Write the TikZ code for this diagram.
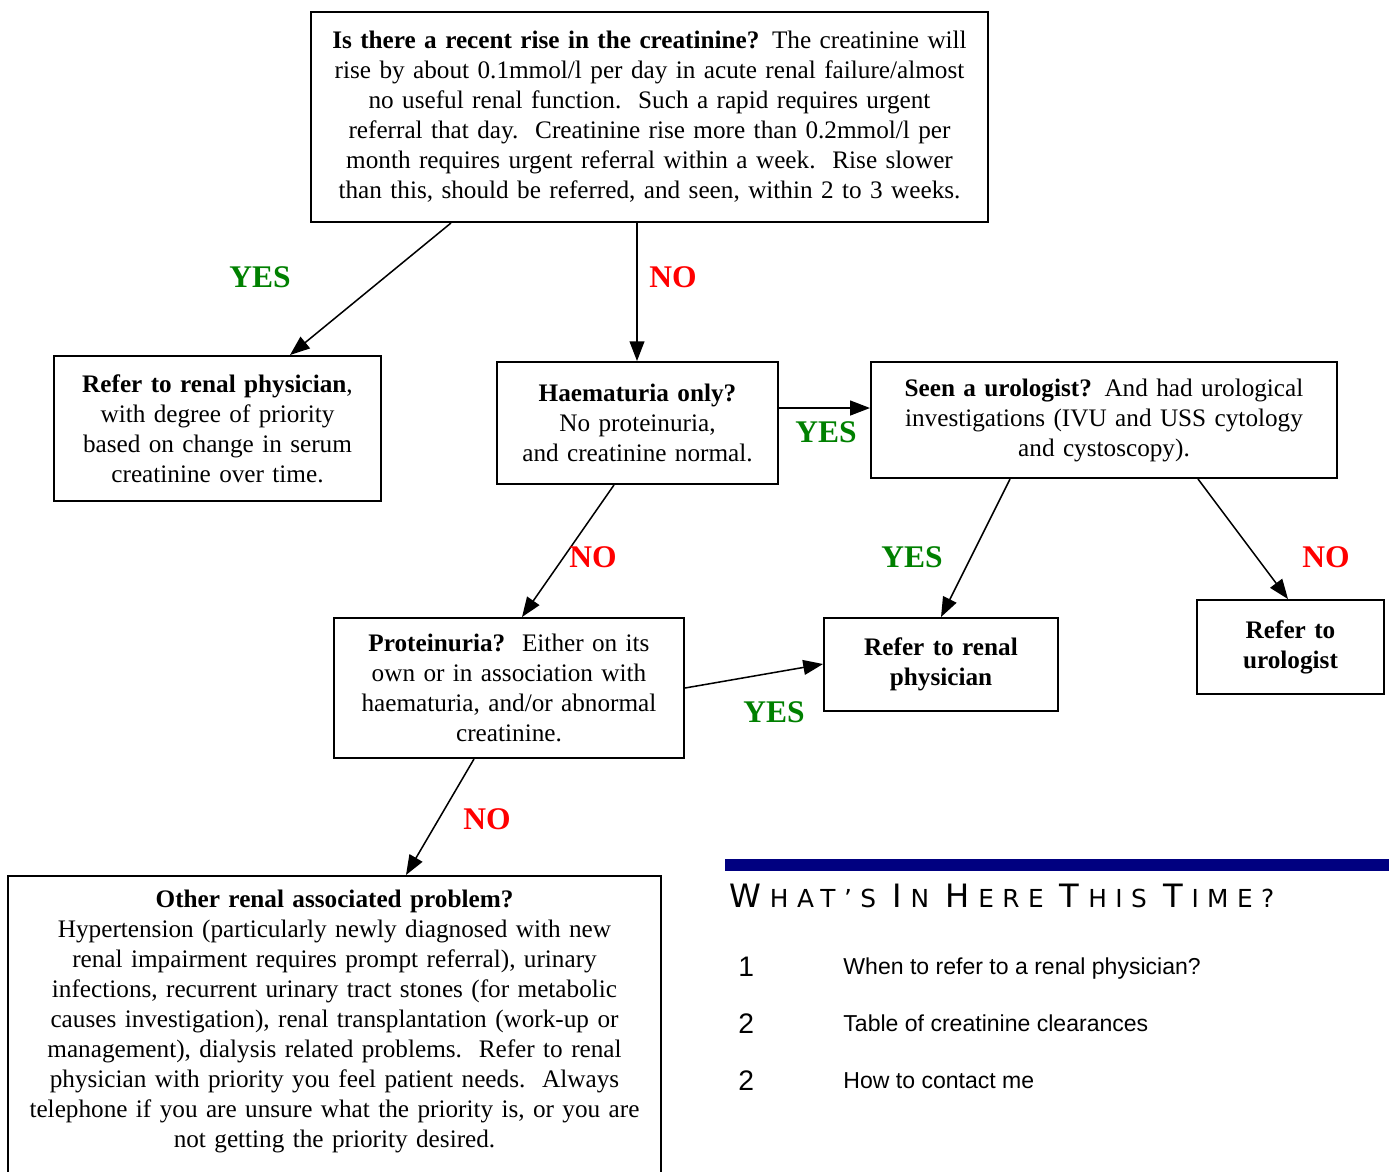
\documentclass[tikz,border=0pt]{standalone}
\usepackage{fontspec}
\setmainfont{Liberation Serif}
\setsansfont{Liberation Sans}
\newfontfamily\titlefont[LetterSpace=34]{DejaVu Sans}
\usetikzlibrary{arrows.meta}
\definecolor{yesgreen}{RGB}{0,128,0}
\definecolor{nored}{RGB}{255,0,0}
\definecolor{barblue}{RGB}{0,0,128}
\newcommand\tbig[1]{{\fontsize{14.8}{15}\selectfont #1}\kern4pt}
\newcommand\tsml{\fontsize{11.4}{15}\selectfont}

\begin{document}
\begin{tikzpicture}[x=0.46pt, y=-0.46pt, box/.style={draw=black, line width=0.9pt, inner sep=0pt, align=center, font=\fontsize{11.6}{13.8}\selectfont}, yes/.style={font=\fontsize{14.5}{15}\selectfont\bfseries, text=yesgreen}, no/.style={yes, text=nored}, arr/.style={-{Triangle[length=3.2mm, width=2.4mm]}, line width=0.7pt}, listnum/.style={anchor=base west, inner sep=0pt, font=\sffamily\fontsize{13}{13}\selectfont}, listtext/.style={anchor=base west, inner sep=0pt, font=\sffamily\fontsize{10.6}{12}\selectfont}
]
  \useasboundingbox (0,0) rectangle (1389,1171);
  \clip (0,0) rectangle (1389,1171);
  \node[box, minimum width=311.4pt, minimum height=96.6pt, text width=307pt] (rise) at (649.5,117)
    {\textbf{Is there a recent rise in the creatinine?} The creatinine will\\
     rise by about 0.1mmol/l per day in acute renal failure/almost\\
     no useful renal function.\ \ Such a rapid requires urgent\\
     referral that day.\ \ Creatinine rise more than 0.2mmol/l per\\
     month requires urgent referral within a week.\ \ Rise slower\\
     than this, should be referred, and seen, within 2 to 3 weeks.};
  \node[box, minimum width=150.4pt, minimum height=66.7pt, text width=146pt] (renal) at (217.5,428.5)
    {\textbf{Refer to renal physician},\\ with degree of priority\\ based on change in serum\\ creatinine over time.};
  \node[box, minimum width=129.3pt, minimum height=56.1pt, text width=126pt] (haem) at (637.5,423)
    {\textbf{Haematuria only?}\\ No proteinuria,\\ and creatinine normal.};
  \node[box, minimum width=214.4pt, minimum height=53.4pt, text width=210pt] (urol) at (1104,420)
    {\textbf{Seen a urologist?} And had urological\\ investigations (IVU and USS cytology\\ and cystoscopy).};
  \node[box, minimum width=161pt, minimum height=64.4pt, text width=157pt] (prot) at (509,688)
    {\textbf{Proteinuria?}\ \ Either on its\\ own or in association with\\ haematuria, and/or abnormal\\ creatinine.};
  \node[box, font=\fontsize{11.6}{13.8}\selectfont\bfseries, minimum width=107.6pt, minimum height=42.8pt, text width=104pt] (renal2) at (941,664.5)
    {Refer to renal\\ physician};
  \node[box, font=\fontsize{11.6}{13.8}\selectfont\bfseries, minimum width=86pt, minimum height=43.2pt, text width=82pt] (urolref) at (1290.5,647)
    {Refer to\\ urologist};
  \node[box, anchor=north, minimum width=300.4pt, minimum height=150pt, text width=296pt] (other) at (334.5,875)
    {\textbf{Other renal associated problem?}\\
     Hypertension (particularly newly diagnosed with new\\
     renal impairment requires prompt referral), urinary\\
     infections, recurrent urinary tract stones (for metabolic\\
     causes investigation), renal transplantation (work-up or\\
     management), dialysis related problems.\ \ Refer to renal\\
     physician with priority you feel patient needs.\ \ Always\\
     telephone if you are unsure what the priority is, or you are\\
     not getting the priority desired.\\ \rule{0pt}{15pt}};

  \draw[arr] (rise.south -| 451,0) -- (renal.north -| 290,0);
  \draw[arr] (rise.south -| 637,0) -- (haem.north -| 637,0);
  \draw[arr] (haem.east |- 0,408) -- (urol.west |- 0,408);
  \draw[arr] (haem.south -| 614,0) -- (prot.north -| 522,0);
  \draw[arr] (urol.south -| 1010,0) -- (renal2.north);
  \draw[arr] (urol.south -| 1198,0) -- (urolref.north -| 1288,0);
  \draw[arr] (prot.east |- 0,688) -- (renal2.west |- 0,664);
  \draw[arr] (prot.south -| 474,0) -- (other.north -| 406,0);

  \node[yes] (y1) at (260,277) {YES};
  \node[no] (n1) at (673,277) {NO};
  \node[yes] (y2) at (826,432) {YES};
  \node[no] (n2) at (593,557) {NO};
  \node[yes] (y3) at (912,557) {YES};
  \node[no] (n3) at (1326,557) {NO};
  \node[yes] (y4) at (774,712) {YES};
  \node[no] (n4) at (487,819) {NO};

  \fill[barblue] (725,859) rectangle (1389,871);
  \node[anchor=base west, inner sep=0pt, font=\titlefont\tsml] (title) at (729,907)
    {\tbig{W}HAT’S \tbig{I}N \tbig{H}ERE \tbig{T}HIS \tbig{T}IME?};
  \node[listnum] (num1) at (738,976) {1};
  \node[listtext] (item1) at (843,974) {When to refer to a renal physician?};
  \node[listnum] (num2) at (738,1033) {2};
  \node[listtext] (item2) at (843,1031) {Table of creatinine clearances};
  \node[listnum] (num3) at (738,1090) {2};
  \node[listtext] (item3) at (843,1088) {How to contact me};
\end{tikzpicture}
\end{document}
